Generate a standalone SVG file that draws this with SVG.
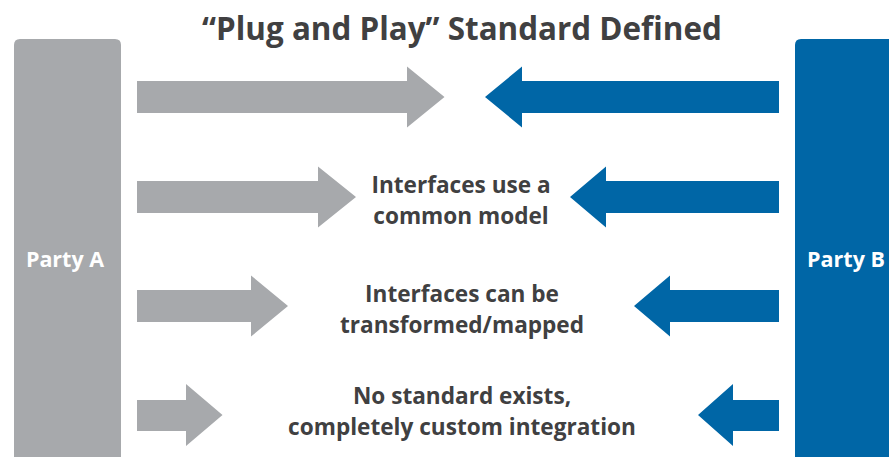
<svg xmlns="http://www.w3.org/2000/svg" width="889" height="457" viewBox="0 0 889 457">
<style>
.gray{fill:#A7A9AC}
.blue{fill:#0066A6}
.lbl{font-family:"Open Sans","Liberation Sans",sans-serif;font-weight:700;font-size:22.6px;fill:#404041;text-anchor:middle}
.party{font-family:"Open Sans","Liberation Sans",sans-serif;font-weight:700;font-size:21.5px;fill:#FFFFFF;text-anchor:middle}
.title{font-family:"Open Sans","Liberation Sans",sans-serif;font-weight:700;font-size:31.4px;fill:#404041;text-anchor:middle}
</style>
<rect width="889" height="457" fill="#FFFFFF"/>
<text class="title" x="462" y="40">“Plug and Play” Standard Defined</text>
<g id="partyA">
<path class="gray" d="M14 470 V45 Q14 39 20 39 H115 Q121 39 121 45 V470 Z"/>
<text class="party" x="65" y="267">Party A</text>
</g>
<g id="partyB">
<path class="blue" d="M795 470 V45 Q795 39 801 39 H900 V470 Z"/>
<text class="party" x="846" y="267">Party B</text>
</g>
<g id="connectors">
<path class="gray" d="M137 81 H407 V66.5 L444.5 97 L407 127.5 V113 H137 Z"/>
<path class="blue" d="M779 81 H522 V66.5 L485 97 L522 127.5 V113 H779 Z"/>
<path class="gray" d="M137 181 H318 V166.5 L356 197 L318 227.5 V213 H137 Z"/>
<path class="blue" d="M779 181 H606 V166.5 L570 197 L606 227.5 V213 H779 Z"/>
<path class="gray" d="M137 290 H251 V275.5 L288 306 L251 336.5 V322 H137 Z"/>
<path class="blue" d="M779 290 H670 V275.5 L634 306 L670 336.5 V322 H779 Z"/>
<path class="gray" d="M137 400 H186 V384 L222.5 415 L186 446 V431 H137 Z"/>
<path class="blue" d="M779 400 H733 V384 L698 415 L733 446 V431 H779 Z"/>
</g>
<g id="label2">
<text class="lbl" x="461" y="192.5">Interfaces use a</text>
<text class="lbl" x="461" y="223.5">common model</text>
</g>
<g id="label3">
<text class="lbl" x="462" y="301.5">Interfaces can be</text>
<text class="lbl" x="462" y="332.5">transformed/mapped</text>
</g>
<g id="label4">
<text class="lbl" x="462" y="403.5">No standard exists,</text>
<text class="lbl" x="462" y="434.5">completely custom integration</text>
</g>
</svg>
